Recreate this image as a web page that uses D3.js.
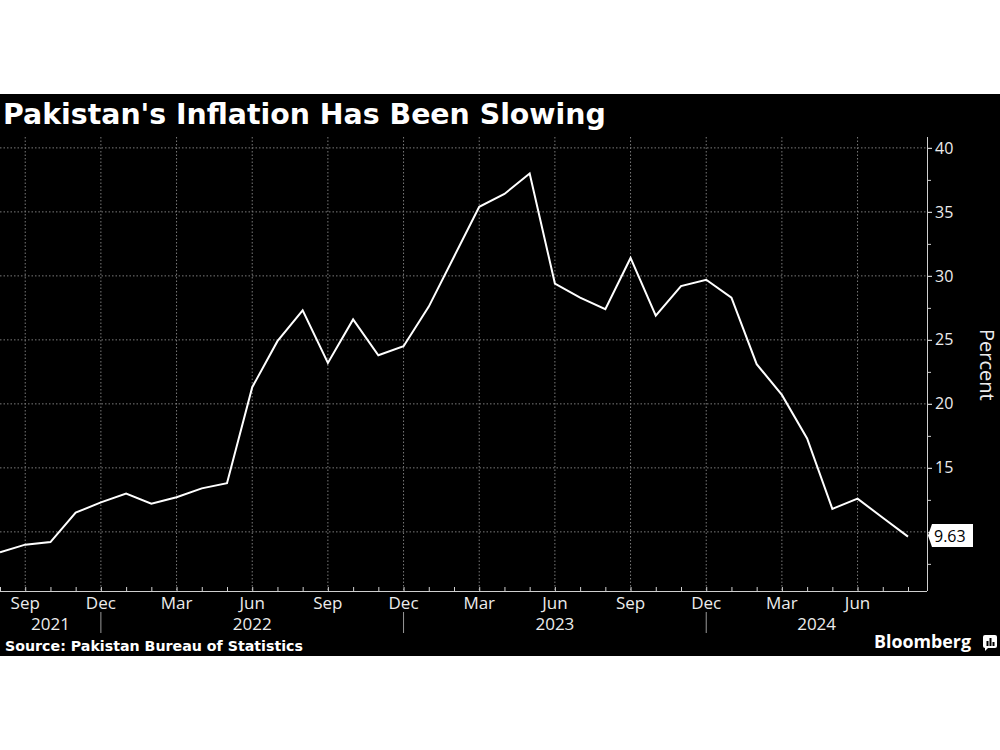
<!DOCTYPE html>
<html>
<head>
<meta charset="utf-8">
<script src="https://cdn.jsdelivr.net/npm/d3@7"></script>
<style>
  html, body { margin: 0; padding: 0; background: #ffffff; }
  svg { display: block; }
</style>
</head>
<body>
<svg id="chart" width="1000" height="750"></svg>
<script>
// ---- data ----
const months = [
  "2021-08","2021-09","2021-10","2021-11","2021-12",
  "2022-01","2022-02","2022-03","2022-04","2022-05","2022-06","2022-07","2022-08","2022-09","2022-10","2022-11","2022-12",
  "2023-01","2023-02","2023-03","2023-04","2023-05","2023-06","2023-07","2023-08","2023-09","2023-10","2023-11","2023-12",
  "2024-01","2024-02","2024-03","2024-04","2024-05","2024-06","2024-07","2024-08"
];
const inflation = [
  8.4, 9.0, 9.2, 11.5, 12.3,
  13.0, 12.2, 12.7, 13.4, 13.8, 21.3, 24.9, 27.3, 23.2, 26.6, 23.8, 24.5,
  27.6, 31.5, 35.4, 36.4, 38.0, 29.4, 28.3, 27.4, 31.4, 26.9, 29.2, 29.7,
  28.3, 23.1, 20.7, 17.3, 11.8, 12.6, 11.1, 9.63
];
const monthTickLabels = ["Sep","Dec","Mar","Jun","Sep","Dec","Mar","Jun","Sep","Dec","Mar","Jun"];
const monthTickMonths = ["2021-09","2021-12","2022-03","2022-06","2022-09","2022-12","2023-03","2023-06","2023-09","2023-12","2024-03","2024-06"];
const yearLabels = ["2021","2022","2023","2024"];
const yearBoundaries = ["2021-12","2022-12","2023-12"];
const yGridValues = [10, 15, 20, 25, 30, 35, 40];
const yTickLabels = [15, 20, 25, 30, 35, 40];   // "10" is hidden behind the last-value label
const yMinorTicks = [7.5, 12.5, 17.5, 22.5, 27.5, 32.5, 37.5];
const lastLabel = "9.63";

const title = "Pakistan's Inflation Has Been Slowing";
const source = "Source: Pakistan Bureau of Statistics";
const yTitle = "Percent";

// ---- layout ----
const svg = d3.select("#chart");
const plotL = 0, plotR = 927, plotT = 137, plotB = 591;
const txt = "#ececec";
const labelFont = "'Open Sans', 'Noto Sans', sans-serif";
const boldFont = "'DejaVu Sans', 'Noto Sans', sans-serif";

svg.append("rect").attr("x", 0).attr("y", 94).attr("width", 1000).attr("height", 562).attr("fill", "#000");

const idx = d => months.indexOf(d);
const x = d3.scaleLinear().domain([0, months.length - 1]).range([0, 908]);
const y = d3.scaleLinear().domain([5.38, 40.85]).range([plotB, plotT]);

function fitText(sel, width) {
  const w = sel.node().getComputedTextLength();
  const fs = parseFloat(sel.attr("font-size"));
  sel.attr("font-size", (fs * width / w).toFixed(2));
}

// title
const t = svg.append("text").attr("x", 3).attr("y", 124).attr("fill", "#fff")
  .attr("font-family", boldFont).attr("font-weight", "bold").attr("font-size", 26).text(title);
fitText(t, 603);

// grid
const g = svg.append("g");
g.selectAll("line.hg").data(yGridValues).join("line")
  .attr("x1", plotL).attr("x2", plotR).attr("y1", d => y(d)).attr("y2", d => y(d))
  .attr("stroke", "#7a7a7a").attr("stroke-width", 1).attr("stroke-dasharray", "1.5,2");
g.selectAll("line.vg").data(monthTickMonths).join("line")
  .attr("x1", d => x(idx(d))).attr("x2", d => x(idx(d))).attr("y1", plotT).attr("y2", plotB)
  .attr("stroke", "#7a7a7a").attr("stroke-width", 1).attr("stroke-dasharray", "1.5,2");

// x axis
const xAxis = d3.axisBottom(x).tickValues(d3.range(months.length)).tickSize(-4).tickFormat("");
const xa = svg.append("g").attr("transform", `translate(0,${plotB})`).call(xAxis);
xa.select(".domain").attr("d", `M${plotL},0.5H${plotR}`).attr("stroke", "#cfcfcf");
xa.selectAll(".tick line").attr("stroke", "#cfcfcf");

svg.selectAll("text.mlab").data(monthTickMonths).join("text")
  .attr("x", d => x(idx(d))).attr("y", 609).attr("text-anchor", "middle")
  .attr("fill", txt).attr("font-family", labelFont).attr("font-size", 17)
  .text((d, i) => monthTickLabels[i]);

svg.selectAll("line.ysep").data(yearBoundaries).join("line")
  .attr("x1", d => x(idx(d))).attr("x2", d => x(idx(d))).attr("y1", 612).attr("y2", 633)
  .attr("stroke", "#9a9a9a").attr("stroke-width", 1);

const bounds = [plotL, ...yearBoundaries.map(d => x(idx(d))), plotR];
svg.selectAll("text.ylab").data(yearLabels).join("text")
  .attr("x", (d, i) => (bounds[i] + bounds[i + 1]) / 2).attr("y", 630).attr("text-anchor", "middle")
  .attr("fill", txt).attr("font-family", labelFont).attr("font-size", 17).text(d => d);

// y axis
const yAxisTicks = d3.axisRight(y).tickValues(yGridValues).tickSize(5).tickFormat("");
const yt = svg.append("g").attr("transform", `translate(${plotR},0)`).call(yAxisTicks);
yt.select(".domain").attr("d", `M0.5,${plotT}V${plotB}`).attr("stroke", "#cfcfcf");
yt.selectAll(".tick line").attr("stroke", "#cfcfcf");
const yAxisLabels = d3.axisRight(y).tickValues(yTickLabels).tickSize(5).tickPadding(3).tickFormat(d3.format("d"));
const ya = svg.append("g").attr("transform", `translate(${plotR},0)`).call(yAxisLabels);
ya.select(".domain").remove();
ya.selectAll(".tick line").attr("stroke", "#cfcfcf");
ya.selectAll(".tick text").attr("fill", txt).attr("font-family", labelFont).attr("font-size", 16);
const yMinor = d3.axisRight(y).tickValues(yMinorTicks).tickSize(4).tickFormat("");
const ym = svg.append("g").attr("transform", `translate(${plotR},0)`).call(yMinor);
ym.select(".domain").remove();
ym.selectAll(".tick line").attr("stroke", "#cfcfcf");

svg.append("text")
  .attr("transform", `translate(980,${(y(25) + y(20)) / 2 - 7}) rotate(90)`)
  .attr("text-anchor", "middle").attr("fill", txt).attr("font-family", labelFont).attr("font-size", 20)
  .text(yTitle);

// line
const line = d3.line().x((d, i) => x(i)).y(d => y(d));
svg.append("path").datum(inflation).attr("d", line)
  .attr("fill", "none").attr("stroke", "#fff").attr("stroke-width", 2).attr("stroke-linejoin", "miter");

// end label
const ly = y(inflation[inflation.length - 1]) - 1;
svg.append("path")
  .attr("d", `M${plotR + 1},${ly} L${plotR + 5},${ly - 11.5} H973 V${ly + 11.5} H${plotR + 5} Z`)
  .attr("fill", "#fff");
svg.append("text").attr("x", 934).attr("y", ly + 6).attr("fill", "#000")
  .attr("font-family", labelFont).attr("font-size", 16).text(lastLabel);

// footer
const s = svg.append("text").attr("x", 5).attr("y", 651).attr("fill", "#fff")
  .attr("font-family", boldFont).attr("font-weight", "bold").attr("font-size", 13).text(source);
fitText(s, 298);

const b = svg.append("text").attr("x", 874).attr("y", 648).attr("fill", "#fff")
  .attr("font-family", labelFont).attr("font-weight", "bold").attr("font-size", 18).text("Bloomberg");
fitText(b, 97);

const icon = svg.append("g").attr("transform", "translate(983,635)");
icon.append("rect").attr("width", 14).attr("height", 13).attr("rx", 2).attr("fill", "#fff");
icon.append("path").attr("d", "M2,12 L2,16 L6,12 Z").attr("fill", "#fff");
icon.append("rect").attr("x", 3.5).attr("y", 6).attr("width", 2).attr("height", 5).attr("fill", "#000");
icon.append("rect").attr("x", 6.5).attr("y", 3).attr("width", 2).attr("height", 8).attr("fill", "#000");
icon.append("rect").attr("x", 9.5).attr("y", 7).attr("width", 2).attr("height", 4).attr("fill", "#000");
</script>
</body>
</html>
